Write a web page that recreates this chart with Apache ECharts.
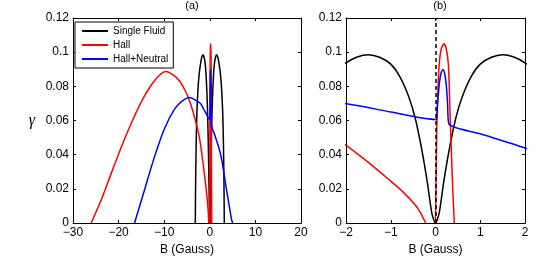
<!DOCTYPE html>
<html>
<head>
<meta charset="utf-8">
<script src="https://cdn.jsdelivr.net/npm/echarts@6/dist/echarts.min.js"></script>
<style>
html,body{margin:0;padding:0;background:#fff;}
#c{width:557px;height:264px;}
</style>
</head>
<body>
<div id="c"></div>
<script>
// ---- data ----
const panelTitles = ['(a)', '(b)'];
const xTicksA = [-30, -20, -10, 0, 10, 20];
const xTicksB = [-2, -1, 0, 1, 2];
const yTicks = [0, 0.02, 0.04, 0.06, 0.08, 0.1, 0.12];
const seriesNames = ['Single Fluid', 'Hall', 'Hall+Neutral'];

const singleB = [-3.18, -3.1, -3.0, -2.85, -2.6, -2.3, -2.0, -1.75, -1.5, -1.25, -1.0, -0.8, -0.6, -0.45, -0.3, -0.18, -0.08, 0,
                 0.08, 0.18, 0.3, 0.45, 0.6, 0.8, 1.0, 1.25, 1.5, 1.75, 2.0, 2.3, 2.6, 2.85, 3.0, 3.1, 3.18];
const singleG = [0, 0.025, 0.045, 0.063, 0.078, 0.088, 0.0938, 0.0972, 0.0985, 0.097, 0.093, 0.0858, 0.074, 0.061, 0.042, 0.0234, 0.0055, 0,
                 0.0055, 0.0234, 0.042, 0.061, 0.074, 0.0858, 0.093, 0.097, 0.0985, 0.0972, 0.0938, 0.088, 0.078, 0.063, 0.045, 0.025, 0];

const hallB = [-26.0, -23.8, -21.6, -19.4, -17.2, -15.0, -12.8, -11.0, -9.7, -8.1, -6.6, -5.5, -4.4, -3.3, -2.5, -2.0, -1.5, -1.0, -0.75, -0.5, -0.35, -0.22, -0.1,
               0, 0.015, 0.03, 0.06, 0.09, 0.13, 0.19, 0.24, 0.29, 0.33, 0.36, 0.39, 0.42];
const hallG = [0, 0.0136, 0.0292, 0.0445, 0.0585, 0.0711, 0.0809, 0.0866, 0.0887, 0.0868, 0.083, 0.078, 0.0712, 0.0615, 0.053, 0.0455, 0.0355, 0.0245, 0.0188, 0.012, 0.0067, 0, null,
               0, 0.03, 0.058, 0.082, 0.095, 0.102, 0.105, 0.102, 0.092, 0.06, 0.038, 0.017, 0];

const neutralB = [-16.5, -14.3, -12.1, -9.9, -7.7, -6.0, -4.4, -3.3, -2.0, -1.0, 0, 0.025, 0.05, 0.09, 0.125, 0.165, 0.2, 0.24, 0.27, 0.3,
                  1.0, 2.0, 2.5, 3.0, 3.66, 4.2, 4.77, 5.0];
const neutralG = [0, 0.0195, 0.039, 0.0555, 0.0668, 0.0715, 0.0735, 0.0722, 0.0698, 0.065, 0.0606, 0.061, 0.071, 0.0825, 0.0878, 0.0897, 0.088, 0.081, 0.07, 0.058,
                  0.0522, 0.0439, 0.0385, 0.031, 0.0195, 0.011, 0.002, 0];

const zeroMarkerB = 0;

// ---- chart ----
const FONT = 'Liberation Sans, Arial, Helvetica, sans-serif';
const colors = ['#000000', '#ff0000', '#0000ff'];
const pairs = (xs, ys) => xs.map((x, i) => (ys[i] === null ? ['-', '-'] : [x, ys[i]]));
const datasets = [pairs(singleB, singleG), pairs(hallB, hallG), pairs(neutralB, neutralG)];
const minus = v => String(v).replace('-', '\u2212');

const grids = [
  { left: 73, top: 18, width: 228, height: 205 },
  { left: 346, top: 18, width: 179, height: 205 }
];
const xTickSets = [xTicksA, xTicksB];

const xAxes = [];
const yAxes = [];
grids.forEach((g, gi) => {
  const xt = xTickSets[gi];
  const base = {
    type: 'value', gridIndex: gi,
    min: xt[0], max: xt[xt.length - 1], interval: xt[1] - xt[0],
    splitLine: { show: false },
    axisLine: { show: true, onZero: false, lineStyle: { color: '#000', width: 1 } },
    axisTick: { show: true, inside: true, length: 3, lineStyle: { color: '#000' } }
  };
  xAxes.push(Object.assign({}, base, {
    position: 'bottom',
    name: 'B (Gauss)', nameLocation: 'middle', nameGap: 19,
    nameTextStyle: { color: '#000', fontSize: 12, fontFamily: FONT },
    axisLabel: { color: '#000', fontSize: 12, fontFamily: FONT, margin: 4, formatter: minus }
  }));
  xAxes.push(Object.assign({}, base, { position: 'top', axisLabel: { show: false } }));
  const ybase = {
    type: 'value', gridIndex: gi,
    min: yTicks[0], max: yTicks[yTicks.length - 1], interval: yTicks[1] - yTicks[0],
    splitLine: { show: false },
    axisLine: { show: true, onZero: false, lineStyle: { color: '#000', width: 1 } },
    axisTick: { show: true, inside: true, length: 3, lineStyle: { color: '#000' } }
  };
  yAxes.push(Object.assign({}, ybase, {
    position: 'left',
    axisLabel: { color: '#000', fontSize: 12, fontFamily: FONT, margin: 4 }
  }, gi === 0 ? {
    name: '\u03b3', nameLocation: 'middle', nameGap: 38, nameRotate: 0,
    nameTextStyle: { color: '#000', fontSize: 16, fontFamily: 'Liberation Serif, DejaVu Serif, serif', fontStyle: 'italic' }
  } : {}));
  yAxes.push(Object.assign({}, ybase, { position: 'right', axisLabel: { show: false } }));
});

const series = [];
grids.forEach((g, gi) => {
  datasets.forEach((d, si) => {
    const s = {
      type: 'line', name: seriesNames[si], data: d,
      xAxisIndex: gi * 2, yAxisIndex: gi * 2,
      symbol: 'none', smooth: 0.25, clip: true,
      lineStyle: { color: colors[si], width: 1.5 }, itemStyle: { color: colors[si] },
      animation: false
    };
    if (gi === 1 && si === 0) {
      s.markLine = {
        silent: true, symbol: 'none', animation: false,
        label: { show: false },
        lineStyle: { color: '#000', type: [4, 3], width: 1.5 },
        data: [{ xAxis: zeroMarkerB }]
      };
    }
    series.push(s);
  });
});

const chart = echarts.init(document.getElementById('c'), null, { renderer: 'canvas' });
chart.setOption({
  animation: false,
  backgroundColor: '#fff',
  title: [
    { text: panelTitles[0], left: 187, top: -5, textAlign: 'center', textStyle: { fontSize: 11, fontWeight: 'normal', color: '#000', fontFamily: FONT } },
    { text: panelTitles[1], left: 435, top: -5, textAlign: 'center', textStyle: { fontSize: 11, fontWeight: 'normal', color: '#000', fontFamily: FONT } }
  ],
  grid: grids,
  xAxis: xAxes,
  yAxis: yAxes,
  legend: {
    data: seriesNames, orient: 'vertical', left: 75, top: 22,
    itemWidth: 26, itemHeight: 10, itemGap: 4, padding: [4, 5, 4, 6],
    borderColor: '#000', borderWidth: 1, backgroundColor: '#fff',
    itemStyle: { opacity: 0 },
    textStyle: { fontSize: 10, color: '#000', fontFamily: FONT },
    selectedMode: false
  },
  series: series
});
</script>
</body>
</html>
